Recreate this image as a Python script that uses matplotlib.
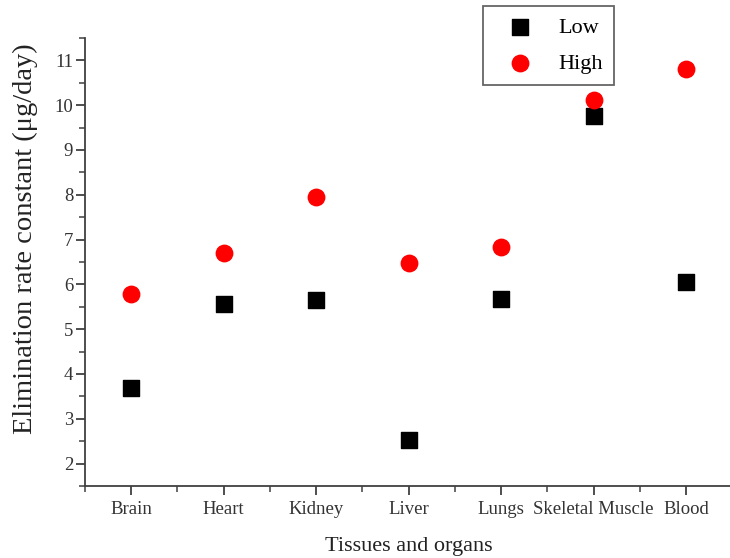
import matplotlib.pyplot as plt
from matplotlib.ticker import MultipleLocator

plt.rcParams['font.family'] = ['Liberation Serif', 'DejaVu Serif']

tissues = ['Brain', 'Heart', 'Kidney', 'Liver', 'Lungs', 'Skeletal Muscle', 'Blood']
low_dose = [3.68, 5.57, 5.66, 2.52, 5.67, 9.75, 6.06]
high_dose = [5.78, 6.69, 7.95, 6.48, 6.83, 10.12, 10.80]

positions = list(range(1, len(tissues) + 1))

fig = plt.figure(figsize=(7.30, 5.58), dpi=100)
ax = fig.add_axes([85 / 730, (558 - 486) / 558, 647.5 / 730, 448 / 558])

ax.scatter(positions, low_dose, marker='s', s=135, color='black', label='Low', zorder=3)
ax.scatter(positions, high_dose, marker='o', s=140, color='#ff0000', label='High', zorder=3)

ax.set_xlim(0.5, 7.5)
ax.set_ylim(1.5, 11.5)
ax.set_xticks(positions)
ax.set_xticklabels(tissues)
ax.xaxis.set_minor_locator(MultipleLocator(1, offset=0.5))
ax.yaxis.set_major_locator(MultipleLocator(1))
ax.yaxis.set_minor_locator(MultipleLocator(0.5))

for side in ['top', 'right']:
    ax.spines[side].set_visible(False)
for side in ['left', 'bottom']:
    ax.spines[side].set_color('#404040')
    ax.spines[side].set_linewidth(1.3)

ax.tick_params(which='major', length=6.5, width=1.3, color='#404040', labelsize=13.5,
               labelcolor='#333333')
ax.tick_params(which='minor', length=4.3, width=1.1, color='#404040')
ax.tick_params(axis='x', which='major', pad=4)
ax.tick_params(axis='y', which='major', pad=2)

ax.set_xlabel('Tissues and organs', fontsize=16, color='#222222', labelpad=14)
ax.set_ylabel('Elimination rate constant (μg/day)', fontsize=20.5, color='#222222', labelpad=12)
# y label sits a little above the middle of the axis
ax.yaxis.label.set_y(0.553)

leg = fig.legend(loc='upper left', bbox_to_anchor=(483 / 730, 1 - 6 / 558),
                 fontsize=16, frameon=True, fancybox=False, borderpad=0.5,
                 labelspacing=0.7, handlelength=2.3, handletextpad=0.6,
                 borderaxespad=0)
leg.get_frame().set_edgecolor('#404040')
leg.get_frame().set_linewidth(1.3)

fig.savefig('out.png', dpi=100)
